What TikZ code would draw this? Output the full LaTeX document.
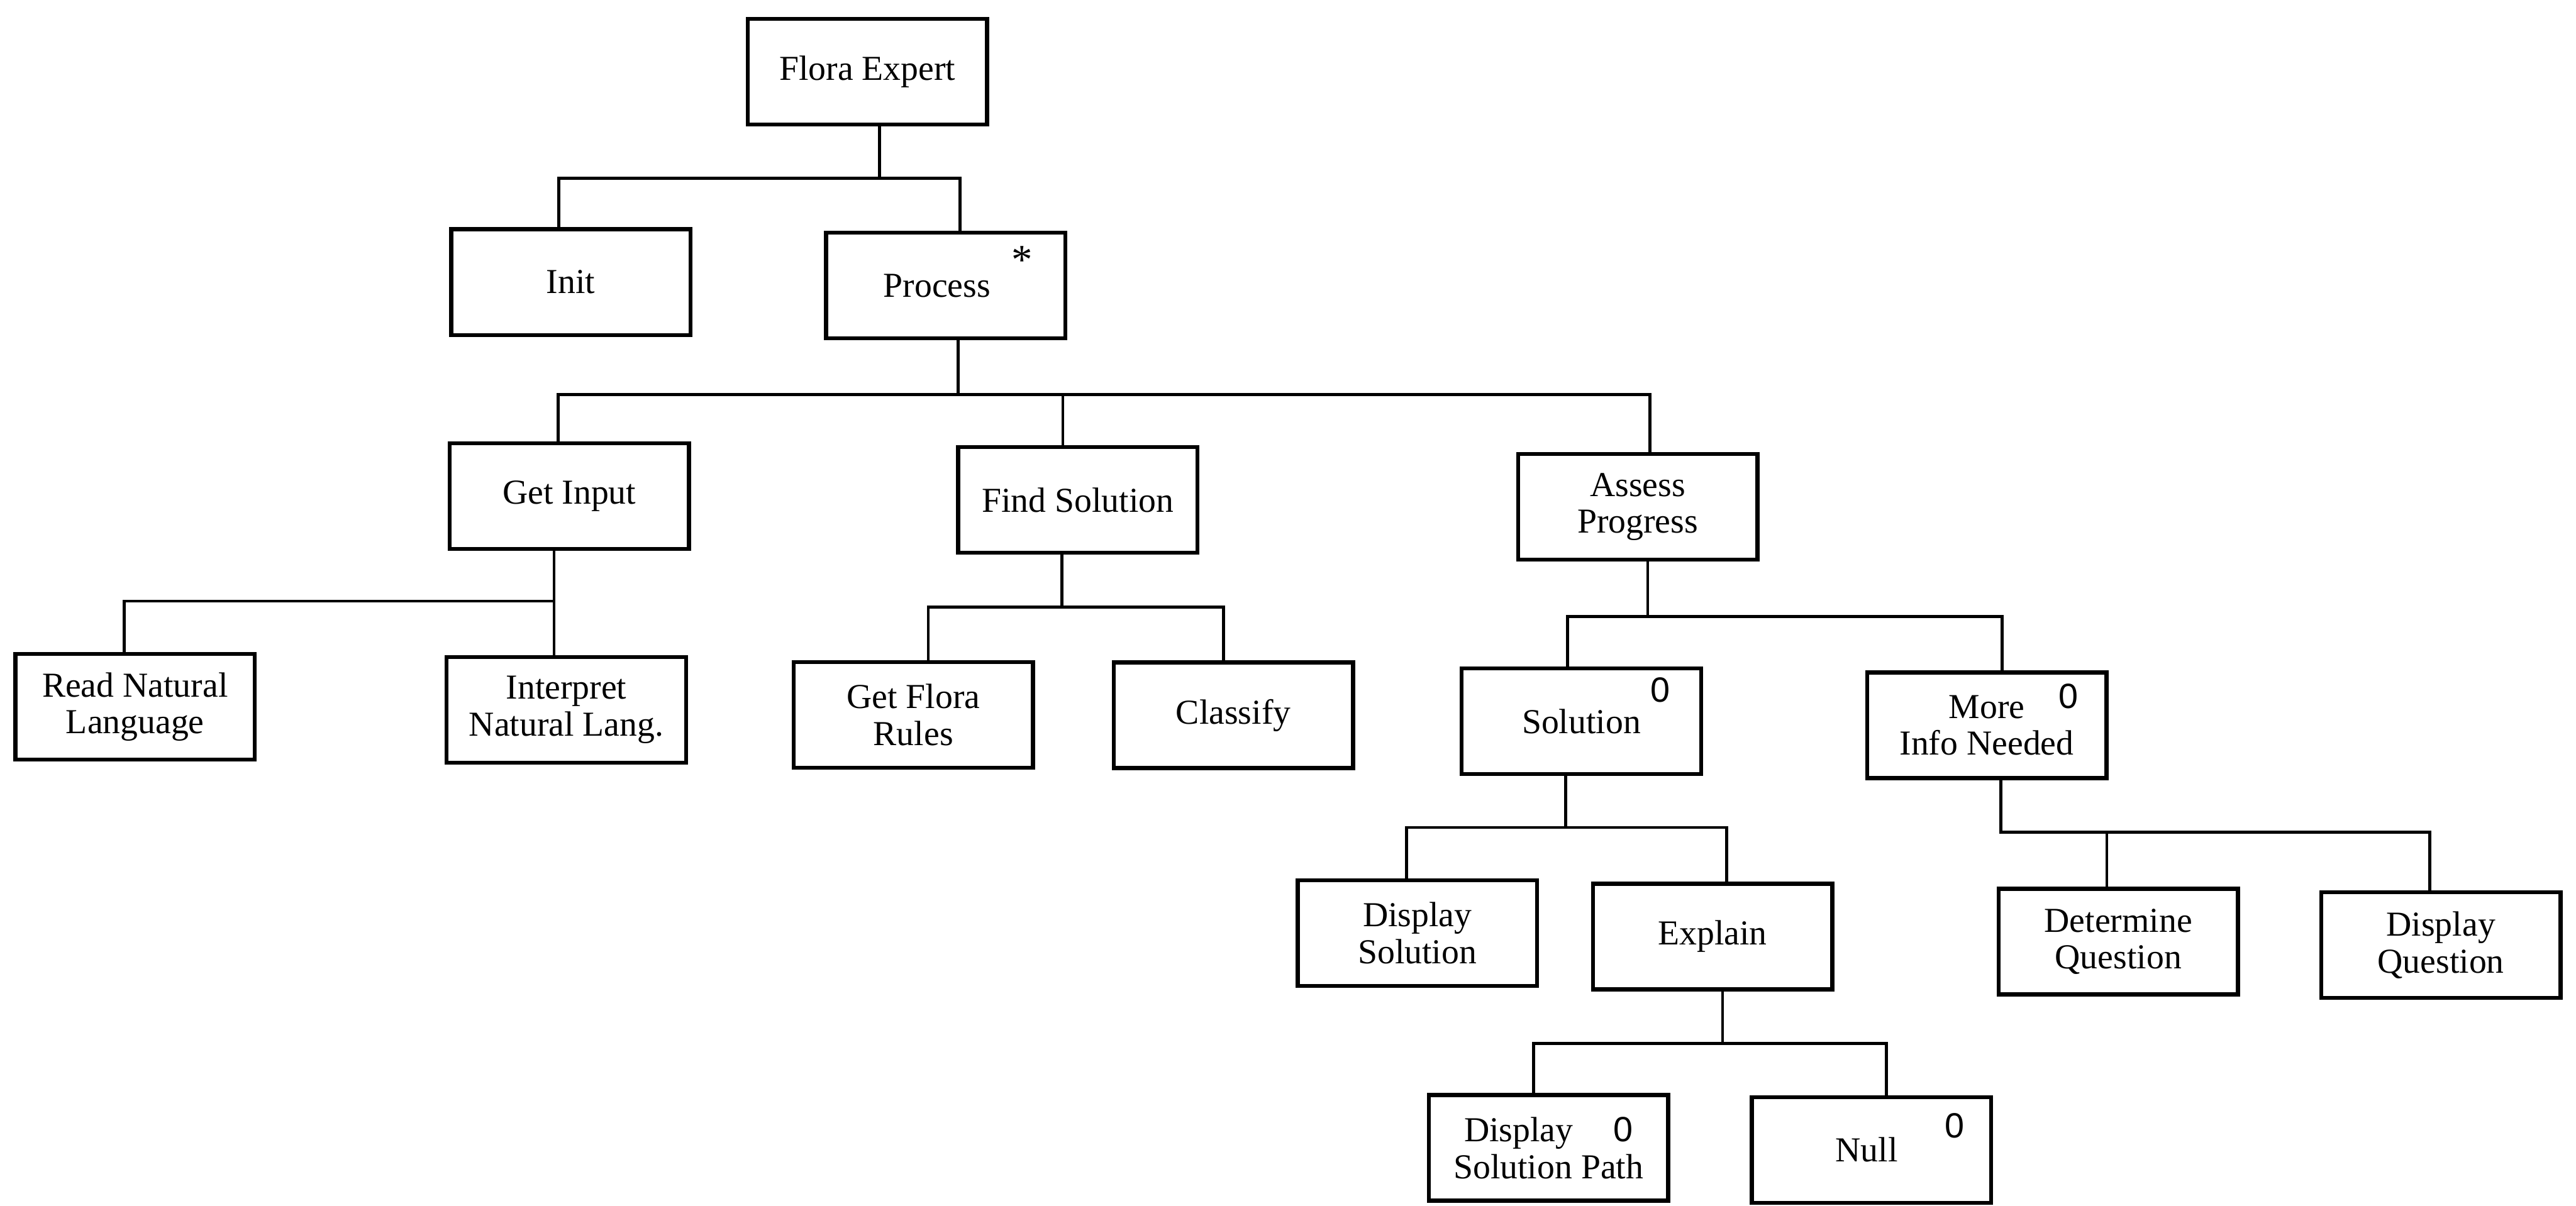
\documentclass[tikz,border=0pt]{standalone}
\usepackage{fontspec}
\setmainfont{Liberation Serif}
\newfontfamily\zfont{Liberation Sans}
\begin{document}
\begin{tikzpicture}[
  box/.style={draw, line width=2.3pt, minimum width=4.8cm, minimum height=2.12cm,
              inner sep=2pt, align=center, font=\fontsize{20}{21}\selectfont},
  link/.style={line width=1.7pt, line join=miter},
  mark0/.style={inner sep=0pt, font=\zfont\fontsize{20}{21}\selectfont},
  starmark/.style={inner sep=0pt, font=\fontsize{24}{24}\selectfont}
]
\useasboundingbox (0,0) rectangle (51.67,-24.19);

% boxes
\node[box] (flora)    at (17.40,-1.44)  {Flora Expert};
\node[box] (init)     at (11.45,-5.66)  {Init};
\node[box] (process)  at (18.97,-5.73)  {Process\hspace*{0.35cm}};
\node[box] (getinput) at (11.42,-9.95)  {Get Input};
\node[box] (findsol)  at (21.62,-10.03) {Find Solution};
\node[box] (assess)   at (32.85,-10.17) {Assess\\Progress};
\node[box] (readnl)   at (2.71,-14.18)  {Read Natural\\Language};
\node[box] (interp)   at (11.36,-14.24) {Interpret\\Natural Lang.};
\node[box] (getrules) at (18.32,-14.34) {Get Flora\\Rules};
\node[box] (classify) at (24.74,-14.35) {Classify};
\node[box] (solution) at (31.72,-14.47) {Solution};
\node[box] (moreinfo) at (39.85,-14.55) {More\\Info Needed};
\node[box] (dispsol)  at (28.43,-18.72) {Display\\Solution};
\node[box] (explain)  at (34.35,-18.79) {Explain};
\node[box] (detq)     at (42.49,-18.89) {Determine\\Question};
\node[box] (dispq)    at (48.96,-18.96) {Display\\Question};
\node[box] (disppath) at (31.06,-23.03) {Display\hspace{23pt}{\zfont 0}\\Solution Path};
\node[box] (null)     at (37.54,-23.07) {Null\hspace*{0.2cm}};

% markers
\node[starmark] (star)  at (20.50,-5.22)  {*};
\node[mark0]    (zsol)  at (33.30,-13.84) {0};
\node[mark0]    (zmore) at (41.49,-13.97) {0};
\node[mark0]    (znull) at (39.21,-22.59) {0};

% Flora Expert -> Init, Process
\coordinate (a0) at ([xshift=2.4mm]flora.south);
\coordinate (a1) at ([xshift=-2.4mm]init.north);
\coordinate (a2) at ([xshift=2.9mm]process.north);
\draw[link] (a0) -- (a0 |- 0,-3.58) -| (a1);
\draw[link] (a0 |- 0,-3.58) -| (a2);

% Process -> Get Input, Find Solution, Assess Progress
\coordinate (b0) at ([xshift=2.5mm]process.south);
\coordinate (b1) at ([xshift=-2.2mm]getinput.north);
\coordinate (b2) at ([xshift=-3.0mm]findsol.north);
\coordinate (b3) at ([xshift=2.4mm]assess.north);
\draw[link] (b0) -- (b0 |- 0,-7.92) -| (b1);
\draw[link] (b0 |- 0,-7.92) -| (b2);
\draw[link] (b0 |- 0,-7.92) -| (b3);

% Get Input -> Read Natural Language, Interpret Natural Lang.
\coordinate (c0) at ([xshift=-3.05mm]getinput.south);
\coordinate (c1) at ([xshift=-2.2mm]readnl.north);
\coordinate (c2) at ([xshift=-2.45mm]interp.north);
\draw[link] (c0) -- (c0 |- 0,-12.06) -| (c1);
\draw[link] (c0 |- 0,-12.06) -| (c2);

% Find Solution -> Get Flora Rules, Classify
\coordinate (d0) at ([xshift=-3.2mm]findsol.south);
\coordinate (d1) at ([xshift=3.0mm]getrules.north);
\coordinate (d2) at ([xshift=-2.0mm]classify.north);
\draw[link] (d0) -- (d0 |- 0,-12.18) -| (d1);
\draw[link] (d0 |- 0,-12.18) -| (d2);

% Assess Progress -> Solution, More Info Needed
\coordinate (e0) at ([xshift=2.0mm]assess.south);
\coordinate (e1) at ([xshift=-2.8mm]solution.north);
\coordinate (e2) at ([xshift=3.1mm]moreinfo.north);
\draw[link] (e0) -- (e0 |- 0,-12.37) -| (e1);
\draw[link] (e0 |- 0,-12.37) -| (e2);

% Solution -> Display Solution, Explain
\coordinate (f0) at ([xshift=-3.2mm]solution.south);
\coordinate (f1) at ([xshift=-2.2mm]dispsol.north);
\coordinate (f2) at ([xshift=2.8mm]explain.north);
\draw[link] (f0) -- (f0 |- 0,-16.60) -| (f1);
\draw[link] (f0 |- 0,-16.60) -| (f2);

% More Info Needed -> Determine Question, Display Question
\coordinate (g0) at ([xshift=2.8mm]moreinfo.south);
\coordinate (g1) at ([xshift=-2.3mm]detq.north);
\coordinate (g2) at ([xshift=-2.2mm]dispq.north);
\draw[link] (g0) -- (g0 |- 0,-16.70) -| (g1);
\draw[link] (g0 |- 0,-16.70) -| (g2);

% Explain -> Display Solution Path, Null
\coordinate (h0) at ([xshift=2.0mm]explain.south);
\coordinate (h1) at ([xshift=-3.0mm]disppath.north);
\coordinate (h2) at ([xshift=3.0mm]null.north);
\draw[link] (h0) -- (h0 |- 0,-20.93) -| (h1);
\draw[link] (h0 |- 0,-20.93) -| (h2);
\end{tikzpicture}
\end{document}
